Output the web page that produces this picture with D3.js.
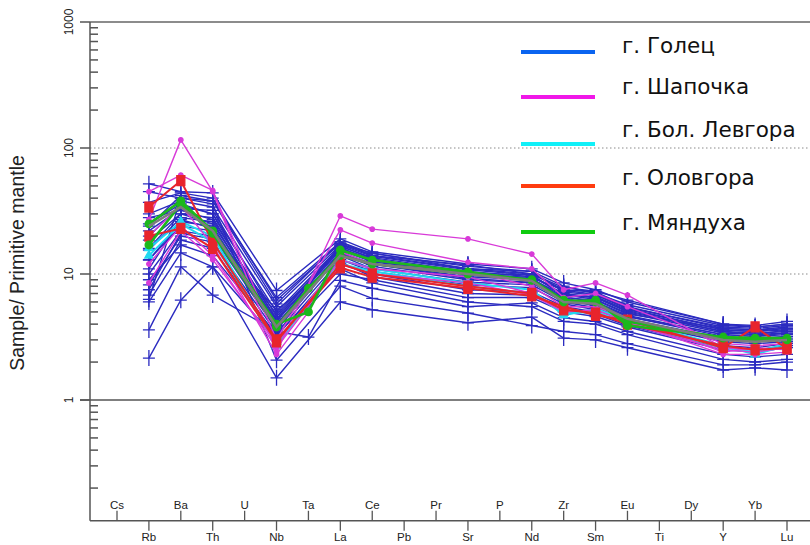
<html>
<head>
    <meta charset="utf-8">
    <title>spider</title>
</head>
<body style="margin: 0; background: #fff;">
    <svg style="position: absolute; left: 0; top: 0;"></svg>
</body>

<script src="https://cdn.jsdelivr.net/npm/d3@7"></script>
<script>
const width = 810;
const height = 545;

// axis order on the spider diagram
const elements = ['Cs', 'Rb', 'Ba', 'Th', 'U', 'Nb', 'Ta', 'La', 'Ce', 'Pb', 'Pr', 'Sr', 'P', 'Nd', 'Zr', 'Sm', 'Eu', 'Ti', 'Dy', 'Y', 'Yb', 'Lu'];
// elements that carry values (the rest are skipped by the lines)
const measured = ['Rb', 'Ba', 'Th', 'Nb', 'Ta', 'La', 'Ce', 'Sr', 'Nd', 'Zr', 'Sm', 'Eu', 'Y', 'Yb', 'Lu'];
const yTicks = [1, 10, 100, 1000];

// г. Голец (navy crosses)
const golets = [
    [52, 45, 44, 7.4, null, 19, 15, 12, 11, 8.5, 7.5, 6.0, 4.0, 3.9, 4.2],
    [45, 40, 38, 6.5, null, 18, 14.5, 11.5, 10.5, 8.0, 7.0, 5.7, 3.9, 3.8, 4.0],
    [37, 44, 40, 6.2, null, 17.5, 14, 11.8, 10, 7.5, 7.2, 5.5, 3.7, 3.6, 3.8],
    [30, 38, 34, 5.5, null, 17, 14.7, 11, 10.5, 7.2, 6.8, 5.3, 3.6, 3.5, 3.7],
    [25, 36, 30, 5.0, null, 16.5, 13.5, 10.5, 9.5, 7.0, 6.5, 5.0, 3.5, 3.4, 3.5],
    [22, 33, 32, 4.6, null, 16, 13, 10.2, 9.8, 6.8, 6.3, 4.9, 3.4, 3.3, 3.4],
    [18.6, 30, 28, 4.3, null, 15.5, 12.5, 10, 9.2, 6.6, 6.0, 4.7, 3.3, 3.2, 3.3],
    [15.5, 28, 26, 4.0, null, 15, 12, 9.5, 9.0, 6.4, 5.8, 4.6, 3.2, 3.1, 3.2],
    [12.9, 26, 24, 3.8, null, 14.5, 11.5, 9.0, 8.5, 6.2, 5.6, 4.4, 3.1, 3.0, 3.1],
    [10, 22, 20, 3.6, null, 14, 11, 8.6, 8.2, 6.0, 5.4, 4.3, 3.0, 2.9, 3.0],
    [8.2, 20, 18, 3.4, null, 13, 10.5, 8.2, 7.8, 5.8, 5.2, 4.2, 2.9, 2.8, 2.9],
    [6.8, 18.6, 16, 3.2, null, 12, 10, 7.5, 7.2, 5.5, 5.0, 4.0, 2.7, 2.6, 2.8],
    [6.0, 14.7, 11.4, 3.0, null, 10, 9.0, 6.5, 6.5, 5.0, 4.6, 3.8, 2.5, 2.4, 2.6],
    [3.6, 11.4, 6.8, 3.5, 3.16, 8.9, 7.7, 5.5, 5.9, 4.5, 4.2, 3.5, 2.3, 2.2, 2.3],
    [2.15, 6.2, 11.4, 1.5, null, 6.0, 5.2, 4.1, 4.55, 3.1, 3.0, 2.6, 1.73, 1.8, 1.73],
    [6.3, 40, 36, 2.07, null, 8.0, 6.4, 4.9, 3.9, 3.5, 3.3, 2.8, 1.9, 1.9, 2.0],
    [24, 42, 38, 5.8, null, 18, 14, 11, 10, 7.8, 7.3, 6.2, 4.0, 3.8, 4.0],
    [13, 24, 22, 4.8, null, 16, 13, 10, 9.0, 6.5, 6.2, 4.8, 3.7, 3.6, 3.7],
    [9.0, 17, 14, 3.3, null, 11, 8.5, 6.0, 5.5, 4.2, 4.0, 3.3, 2.1, 2.0, 2.1],
    [20, 35, 30, 3.9, null, 17, 13.8, 10.8, 9.8, 6.8, 6.5, 5.1, 3.5, 3.3, 3.6],
    [28, 32, 27, 4.4, null, 16.8, 13.2, 10, 9.4, 7.4, 6.9, 5.4, 3.8, 3.7, 3.9],
    [16, 30, 25, 4.2, null, 15.8, 12.8, 9.8, 9.0, 6.9, 6.6, 5.2, 3.6, 3.5, 3.6],
    [11, 27, 23, 3.7, null, 14.8, 12, 9.2, 8.6, 6.3, 5.9, 4.6, 3.3, 3.2, 3.4],
    [7.5, 21, 19, 5.2, null, 12.5, 9.5, 7.0, 6.8, 5.2, 4.8, 3.9, 2.6, 2.5, 2.7],
];
// г. Шапочка (magenta dots)
const shapochka = [
    [27, 116, 45, 2.4, null, 28.9, 22.7, 19, 14.4, 7.5, 8.5, 6.8, 2.6, 2.5, 2.6],
    [45, 61, 46, 3.0, null, 22.4, 17.6, 12.4, 11, 6.5, 7.0, 5.5, 2.8, 2.7, 2.8],
    [20, 35, 17, 2.3, 5.0, 15, 12, 10.5, 8.0, 5.5, 5.5, 4.5, 2.4, 2.6, 2.5],
    [12, 24, 14, 2.6, null, 12, 10, 8.5, 6.8, 5.0, 5.2, 4.2, 2.3, 2.3, 2.4],
    [8.5, 22, 13, 2.8, null, 13, 11, 9.5, 7.0, 5.2, 4.9, 4.0, 2.5, 2.4, 2.6],
];
// г. Бол. Левгора (cyan)
const levgora = [
    [16, 26, 20, 2.7, null, 13, 11, 8.5, 7.5, 4.7, 5.3, 4.3, 2.7, 2.3, 2.7],
    [14, 25, 18, 2.9, null, 12, 10.5, 8.0, 7.0, 4.9, 5.0, 4.1, 2.6, 2.4, 2.8],
];
// г. Оловгора (red squares)
const olovgora = [
    [34, 55, 18, 3.0, null, 11.2, 9.45, 7.7, 6.7, 5.5, 4.7, 4.3, 2.6, 3.8, 2.55],
    [20, 23, 16, 2.9, null, 12, 10, 8.0, 7.0, 5.2, 4.9, 4.0, 2.7, 2.5, 2.6],
];
// г. Мяндуха (green circles)
const myandukha = [
    [25, 38, 22, 4.0, 5.0, 15.5, 12.9, 10.4, 8.9, 6.0, 6.2, 3.9, 3.16, 3.1, 3.1],
    [17, 36, 21, 3.8, 7.7, 14, 12, 10, 9.0, 6.2, 6.0, 4.2, 3.1, 3.0, 3.0],
];
// grey average line
const meanLine = [24, 34, 22, 3.8, null, 14, 12, 10, 8.8, 6.0, 5.8, 4.4, 3.0, 2.9, 3.0];

const legendNames = ['г. Голец', 'г. Шапочка', 'г. Бол. Левгора', 'г. Оловгора', 'г. Мяндуха'];
const legendColors = ['#0a64f0', '#f018e8', '#10f0f8', '#ff3c10', '#10cc10'];

const x = d3.scalePoint().domain(elements).range([117, 787]);
const y = d3.scaleLog().domain([1, 1000]).range([400, 22]);
const x0 = 90;
const yBottom = y(0.11);

const svg = d3.select("svg")
    .attr("width", width)
    .attr("height", height)
    .style("font-family", "Liberation Sans, Arial, sans-serif");

// grid
svg.append("g")
    .selectAll("line")
    .data([10, 100])
    .join("line")
        .attr("x1", x0).attr("x2", width)
        .attr("y1", d => y(d)).attr("y2", d => y(d))
        .attr("stroke", "#8a8a8a")
        .attr("stroke-width", 1)
        .attr("stroke-dasharray", "1.5,2.5");

svg.append("line")
    .attr("x1", x0 - 10).attr("x2", width)
    .attr("y1", y(1)).attr("y2", y(1))
    .attr("stroke", "#555").attr("stroke-width", 1.5);

svg.append("line")
    .attr("x1", x0).attr("x2", width)
    .attr("y1", y(1000)).attr("y2", y(1000))
    .attr("stroke", "#666").attr("stroke-width", 1.5);

// y axis
const yAxis = svg.append("g").attr("stroke", "#555");
yAxis.append("line")
    .attr("x1", x0).attr("x2", x0)
    .attr("y1", y(1000)).attr("y2", yBottom)
    .attr("stroke-width", 1.5);

var minor = [];
[0.1, 1, 10, 100].forEach(dec => {
    for (var k = 2; k <= 9; k++) if (dec * k > 0.11) minor.push(dec * k);
});
yAxis.selectAll(".minor")
    .data(minor)
    .join("line")
        .attr("class", "minor")
        .attr("x1", x0).attr("x2", x0 + 8)
        .attr("y1", d => y(d)).attr("y2", d => y(d))
        .attr("stroke-width", 1.5);
yAxis.selectAll(".major")
    .data(yTicks)
    .join("line")
        .attr("class", "major")
        .attr("x1", x0 - 10).attr("x2", x0)
        .attr("y1", d => y(d)).attr("y2", d => y(d))
        .attr("stroke-width", 1.5);

svg.append("g")
    .selectAll("text")
    .data(yTicks)
    .join("text")
        .attr("transform", d => `translate(${x0 - 17},${y(d)}) rotate(-90)`)
        .attr("text-anchor", "middle")
        .attr("font-size", 12)
        .attr("fill", "#222")
        .text(d => d);

svg.append("text")
    .attr("transform", `translate(24,${263}) rotate(-90)`)
    .attr("text-anchor", "middle")
    .attr("font-size", 19.5)
    .attr("fill", "#222")
    .text("Sample/ Primitive mantle");

// x axis
const xAxis = svg.append("g");
xAxis.append("line")
    .attr("x1", x0).attr("x2", width)
    .attr("y1", yBottom).attr("y2", yBottom)
    .attr("stroke", "#555").attr("stroke-width", 1.5);
xAxis.selectAll("line.tick")
    .data(elements)
    .join("line")
        .attr("class", "tick")
        .attr("x1", d => x(d)).attr("x2", d => x(d))
        .attr("y1", yBottom)
        .attr("y2", (d, i) => i % 2 == 0 ? yBottom - 10 : yBottom + 10)
        .attr("stroke", "#555").attr("stroke-width", 1.3);
xAxis.selectAll("text")
    .data(elements)
    .join("text")
        .attr("x", d => x(d))
        .attr("y", (d, i) => i % 2 == 0 ? yBottom - 12 : yBottom + 20)
        .attr("text-anchor", "middle")
        .attr("font-size", 11.5)
        .attr("fill", "#222")
        .text(d => d);

// series
const toPoints = row => row
    .map((v, i) => ({ el: measured[i], v: v }))
    .filter(p => p.v != null);
const line = d3.line().x(p => x(p.el)).y(p => y(p.v));

function drawGroup(rows, color, lw, marker) {
    const g = svg.append("g");
    rows.forEach(row => {
        const pts = toPoints(row);
        g.append("path")
            .attr("d", line(pts))
            .attr("fill", "none")
            .attr("stroke", color)
            .attr("stroke-width", lw)
            .attr("stroke-linejoin", "round");
        g.selectAll(null)
            .data(pts)
            .join("path")
                .attr("transform", p => `translate(${x(p.el)},${y(p.v)})`)
                .attr("d", marker)
                .attr("fill", color)
                .attr("stroke", color)
                .attr("stroke-width", 1.3);
    });
}

const cross = "M-6,0H6M0,-8V8";
const dot = d3.symbol(d3.symbolCircle, 16)();
const square = "M-4,-5H4V5H-4Z";
const tri = d3.symbol(d3.symbolTriangle, 30)();
const circ = d3.symbol(d3.symbolCircle, 45)();

drawGroup(golets, "#2b2bc0", 1.4, cross);
drawGroup(levgora, "#20d8f0", 2, tri);
drawGroup(shapochka, "#d83ad8", 1.4, dot);
drawGroup(olovgora, "#e8242c", 2, square);
drawGroup(myandukha, "#1cb81c", 2.6, circ);

svg.append("path")
    .attr("d", line(toPoints(meanLine)))
    .attr("fill", "none")
    .attr("stroke", "#7c7c7c")
    .attr("stroke-width", 2.5);

// legend
const legend = svg.append("g")
    .selectAll("g")
    .data(legendNames)
    .join("g")
        .attr("transform", (d, i) => `translate(0,${[52, 97, 144, 186, 232][i]})`);
legend.append("line")
    .attr("x1", 521).attr("x2", 595)
    .attr("stroke", (d, i) => legendColors[i])
    .attr("stroke-width", 4);
legend.append("text")
    .attr("x", 622)
    .attr("y", (d, i) => [-6, -10, -14, -8, -9][i] + 7)
    .attr("font-family", "DejaVu Sans, sans-serif")
    .attr("font-size", 21.5)
    .attr("fill", "#111")
    .text(d => d);
</script>
</html>
